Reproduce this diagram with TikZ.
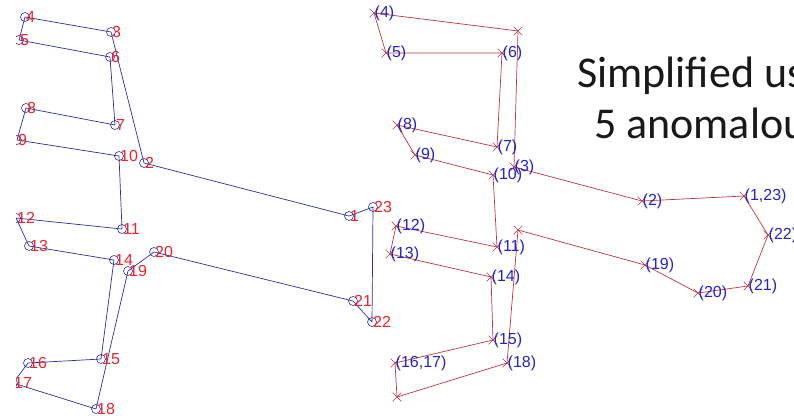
\documentclass[tikz,border=0pt]{standalone}
\usepackage{fontspec}
\setmainfont{Liberation Sans}
\newfontfamily\titlefont{Carlito}
\usetikzlibrary{shapes.misc}
\definecolor{lblue}{RGB}{45,45,150}
\definecolor{lred}{RGB}{235,35,45}
\definecolor{rred}{RGB}{185,55,65}
\definecolor{rblue}{RGB}{35,35,200}
\begin{document}
\begin{tikzpicture}[x=1pt,y=-1pt,
  lline/.style={draw=lblue, line width=0.7pt, line join=round},
  rline/.style={draw=rred, line width=0.7pt, line join=round},
  circmark/.style={circle, draw=lblue, line width=0.6pt, minimum size=9pt, inner sep=0pt},
  crossmark/.style={cross out, draw=rred, line width=0.6pt, minimum size=8pt, inner sep=0pt},
  llabel/.style={text=lred, font=\fontsize{16}{18}\selectfont, anchor=west, inner sep=0pt, xshift=1pt},
  rlabel/.style={text=rblue, font=\fontsize{16}{18}\selectfont, anchor=west, inner sep=0pt, xshift=0.5pt},
  titletext/.style={font=\titlefont\fontsize{44}{52}\selectfont, anchor=base west, inner sep=0pt, text=black!90}
]
\useasboundingbox (0,0) rectangle (794,418);
\begin{scope}
\clip (16,0) rectangle (794,418);
% left plot points
\foreach \n/\x/\y in {1/349/216, 2/144/163, 3/111/32, 4/25/17, 5/19/40, 6/110/57,
  7/115/125, 8/26/108, 9/17/140, 10/119/156, 11/122/229, 12/16/218, 13/29/246,
  14/114/260, 15/101/359, 16/28/363, 17/13/383, 18/96/409, 19/128/271, 20/154/252,
  21/353/301, 22/372/322, 23/373/207}
  {\coordinate (l\n) at (\x,\y);}
\draw[lline] (l1) -- (l2) -- (l3) -- (l4) -- (l5) -- (l6) -- (l7) -- (l8) -- (l9)
  -- (l10) -- (l11) -- (l12) -- (l13) -- (l14) -- (l15) -- (l16) -- (l17) -- (l18)
  -- (l19) -- (l20) -- (l21) -- (l22) -- (l23) -- cycle;
\foreach \n in {1,...,23}
  {\node[circmark] (l\n m) at (l\n) {};}
\foreach \n in {1,...,23}
  {\node[llabel] (l\n t) at (l\n) {\n};}
% right plot points
\foreach \n/\x/\y in {123/744/196, 2/642/201, 3/514/167, A/518/31, 4/374/13, 5/386/53,
  6/502/53, 7/497/147, 8/397/125, 9/415/155, 10/493/175, 11/497/247, 12/396/226,
  13/390/254, 14/491/277, 15/493/340, 1617/395/363, B/397/397, 18/507/363,
  C/518/230, 19/645/265, 20/698/293, 21/748/286, 22/768/235}
  {\coordinate (r\n) at (\x,\y);}
\draw[rline] (r123) -- (r2) -- (r3) -- (rA) -- (r4) -- (r5) -- (r6) -- (r7) -- (r8)
  -- (r9) -- (r10) -- (r11) -- (r12) -- (r13) -- (r14) -- (r15) -- (r1617) -- (rB)
  -- (r18) -- (rC) -- (r19) -- (r20) -- (r21) -- (r22) -- cycle;
\foreach \n in {123,2,3,A,4,5,6,7,8,9,10,11,12,13,14,15,1617,B,18,C,19,20,21,22}
  {\node[crossmark] (r\n m) at (r\n) {};}
\foreach \n/\t in {123/{(1,23)}, 2/(2), 3/(3), 4/(4), 5/(5), 6/(6), 7/(7), 8/(8), 9/(9),
  10/(10), 11/(11), 12/(12), 13/(13), 14/(14), 15/(15), 1617/{(16,17)}, 18/(18),
  19/(19), 20/(20), 21/(21), 22/(22)}
  {\node[rlabel] (r\n t) at (r\n) {\t};}
% title
\node[titletext] (title1) at (577,87) {Simplified us};
\node[titletext] (title2) at (594,138) {5 anomalou};
\end{scope}
\end{tikzpicture}
\end{document}
